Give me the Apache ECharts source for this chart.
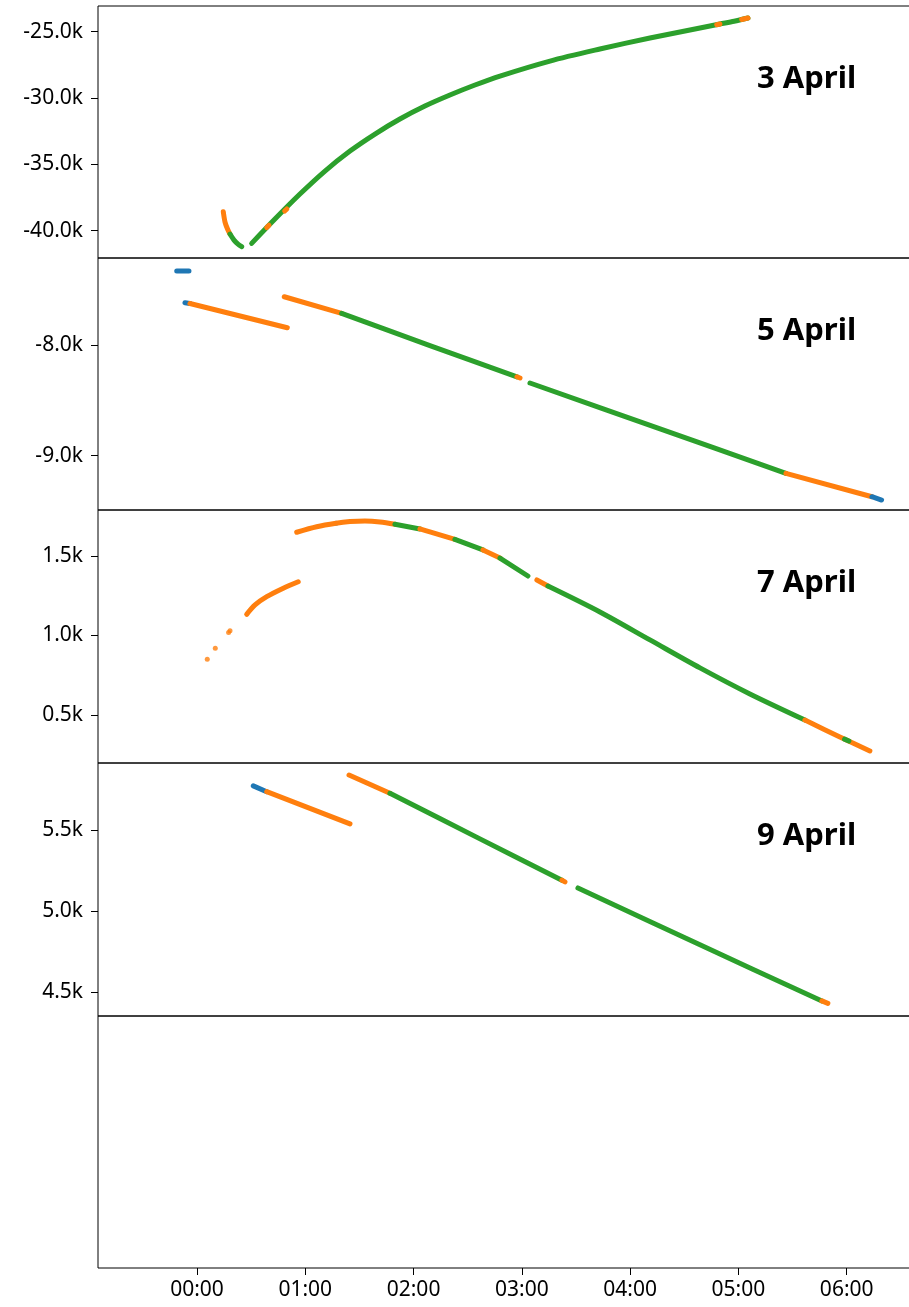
<!DOCTYPE html>
<html><head><meta charset="utf-8">
<script src="https://cdn.jsdelivr.net/npm/echarts@6/dist/echarts.min.js"></script>
<style>html,body{margin:0;padding:0;background:#fff}#c{width:909px;height:1307px}</style>
</head><body><div id="c"></div>
<script>
// ---- data (time in hours after midnight) ----
const panelTitles = ['3 April', '5 April', '7 April', '9 April'];
const xTickHours = [0, 1, 2, 3, 4, 5, 6];
const xTickLabels = ['00:00', '01:00', '02:00', '03:00', '04:00', '05:00', '06:00'];

const yTicksApr3 = [-40000, -35000, -30000, -25000];
const yTicksApr5 = [-9000, -8000];
const yTicksApr7 = [500, 1000, 1500];
const yTicksApr9 = [4500, 5000, 5500];

// segments: [colour key, [[hour, value], ...]]
const apr3 = [
  ['o', [[0.243, -38574], [0.259, -39351], [0.282, -39878], [0.305, -40255]]],
  ['g', [[0.305, -40255], [0.342, -40708], [0.379, -41009], [0.413, -41198]]],
  ['g', [[0.505, -40957], [0.720, -39124], [0.951, -37239], [1.182, -35505], [1.413, -33996], [1.644, -32714],
         [1.874, -31583], [2.105, -30603], [2.336, -29773], [2.567, -29019], [2.798, -28341], [3.260, -27210],
         [3.721, -26305], [4.183, -25475], [4.645, -24721], [4.829, -24419], [4.960, -24210], [5.088, -23967]]],
  ['o', [[0.644, -39760], [0.665, -39590]]],
  ['o', [[0.810, -38520], [0.830, -38360]]],
  ['o', [[4.800, -24470], [4.829, -24419]]],
  ['o', [[5.030, -24080], [5.088, -23967]]]
];
const apr5 = [
  ['b', [[-0.187, -7332], [-0.074, -7332]]],
  ['b', [[-0.111, -7618], [-0.065, -7625]]],
  ['o', [[-0.065, -7625], [0.834, -7844]]],
  ['o', [[0.806, -7564], [1.336, -7714]]],
  ['g', [[1.336, -7714], [2.151, -8005], [2.955, -8287]]],
  ['o', [[2.955, -8287], [2.983, -8298]]],
  ['g', [[3.075, -8343], [4.257, -8750], [5.439, -9159]]],
  ['o', [[5.439, -9159], [6.233, -9370]]],
  ['b', [[6.233, -9370], [6.322, -9400]]]
];
const apr7 = [
  ['o', [[0.459, 1133], [0.536, 1192], [0.644, 1244], [0.797, 1297], [0.935, 1338]]],
  ['o', [[0.921, 1649], [1.105, 1684], [1.284, 1706], [1.413, 1716], [1.551, 1720], [1.690, 1714], [1.828, 1699]]],
  ['g', [[1.828, 1699], [2.059, 1670]]],
  ['o', [[2.059, 1670], [2.151, 1651], [2.382, 1604]]],
  ['g', [[2.382, 1604], [2.641, 1538]]],
  ['o', [[2.641, 1538], [2.798, 1487]]],
  ['g', [[2.798, 1487], [3.056, 1374]]],
  ['o', [[3.139, 1349], [3.241, 1311]]],
  ['g', [[3.241, 1311], [3.721, 1148], [4.183, 972], [4.645, 796], [5.106, 632], [5.614, 468]]],
  ['o', [[5.614, 468], [5.937, 362], [6.214, 274]]],
  ['g', [[5.980, 348], [6.020, 336]]]
];
const apr7Dots = [['o', [0.095, 850]], ['o', [0.169, 919]], ['o', [0.292, 1018]], ['o', [0.305, 1030]], ['b', [1.284, 1706]]];
const apr9 = [
  ['b', [[0.520, 5772], [0.644, 5736]]],
  ['o', [[0.644, 5736], [1.413, 5537]]],
  ['o', [[1.404, 5839], [1.782, 5726]]],
  ['g', [[1.782, 5726], [2.595, 5451], [3.370, 5190]]],
  ['o', [[3.370, 5190], [3.398, 5179]]],
  ['g', [[3.518, 5142], [4.645, 4791], [5.771, 4445]]],
  ['o', [[5.771, 4445], [5.826, 4430]]]
];
const yRanges = [[-42060, -23060], [-9490, -7214], [198, 1789], [4352, 5913], [0, 1]];

// ---- layout ----
const COLORS = { b: '#1f77b4', o: '#ff7f0e', g: '#2ca02c' };
const XMIN = -0.914, XMAX = 7.0;
const tops = [6, 258, 510, 763, 1016];
const heights = [252, 252, 253, 253, 252];
const yTicks = [yTicksApr3, yTicksApr5, yTicksApr7, yTicksApr9, []];
const segs = [apr3, apr5, apr7, apr9, []];
const TICKFONT = 'Noto Sans';

function kfmt(v) { return (v / 1000).toFixed(1) + 'k'; }

const grids = [], xAxes = [], yAxes = [], series = [];
for (let i = 0; i < 5; i++) {
  grids.push({ left: 98, width: 857, top: tops[i], height: heights[i], show: true, borderColor: '#000', borderWidth: 1,
               backgroundColor: 'transparent', containLabel: false, outerBoundsMode: 'none' });
  const bottom = i === 4;
  xAxes.push({
    type: 'value', gridIndex: i, min: XMIN, max: XMAX,
    axisLine: { show: false, onZero: false }, splitLine: { show: false },
    axisTick: { show: bottom, customValues: xTickHours, length: 7, lineStyle: { color: '#000', width: 1 } },
    axisLabel: {
      show: bottom, customValues: xTickHours, margin: 12, color: '#000', fontFamily: TICKFONT, fontSize: 21,
      formatter: v => xTickLabels[xTickHours.indexOf(Math.round(v))] || ''
    }
  });
  yAxes.push({
    type: 'value', gridIndex: i, min: yRanges[i][0], max: yRanges[i][1],
    axisLine: { show: false, onZero: false }, splitLine: { show: false },
    axisTick: { show: yTicks[i].length > 0, customValues: yTicks[i], length: 7, lineStyle: { color: '#000', width: 1 } },
    axisLabel: { show: yTicks[i].length > 0, customValues: yTicks[i], margin: 15, color: '#000', fontFamily: TICKFONT, fontSize: 21, formatter: kfmt }
  });
  segs[i].forEach(([c, pts]) => series.push({
    type: 'line', xAxisIndex: i, yAxisIndex: i, data: pts, symbol: 'none', silent: true,
    smooth: pts.length > 2 ? 0.3 : false,
    lineStyle: { color: COLORS[c], width: 5, cap: 'round', join: 'round' }
  }));
}
['o', 'b'].forEach(c => series.push({
  type: 'scatter', xAxisIndex: 2, yAxisIndex: 2, symbolSize: 5, silent: true,
  itemStyle: { color: COLORS[c] },
  data: apr7Dots.filter(d => d[0] === c).map(d => d[1])
}));

const graphic = panelTitles.map((t, i) => ({
  type: 'text', x: 757, y: tops[i] + 73,
  style: { text: t, font: 'bold 31px "Noto Sans"', fill: '#000', verticalAlign: 'middle', align: 'left' }
}));

const chart = echarts.init(document.getElementById('c'), null, { renderer: 'canvas' });
chart.setOption({ animation: false, grid: grids, xAxis: xAxes, yAxis: yAxes, series, graphic });
</script>
</body></html>
